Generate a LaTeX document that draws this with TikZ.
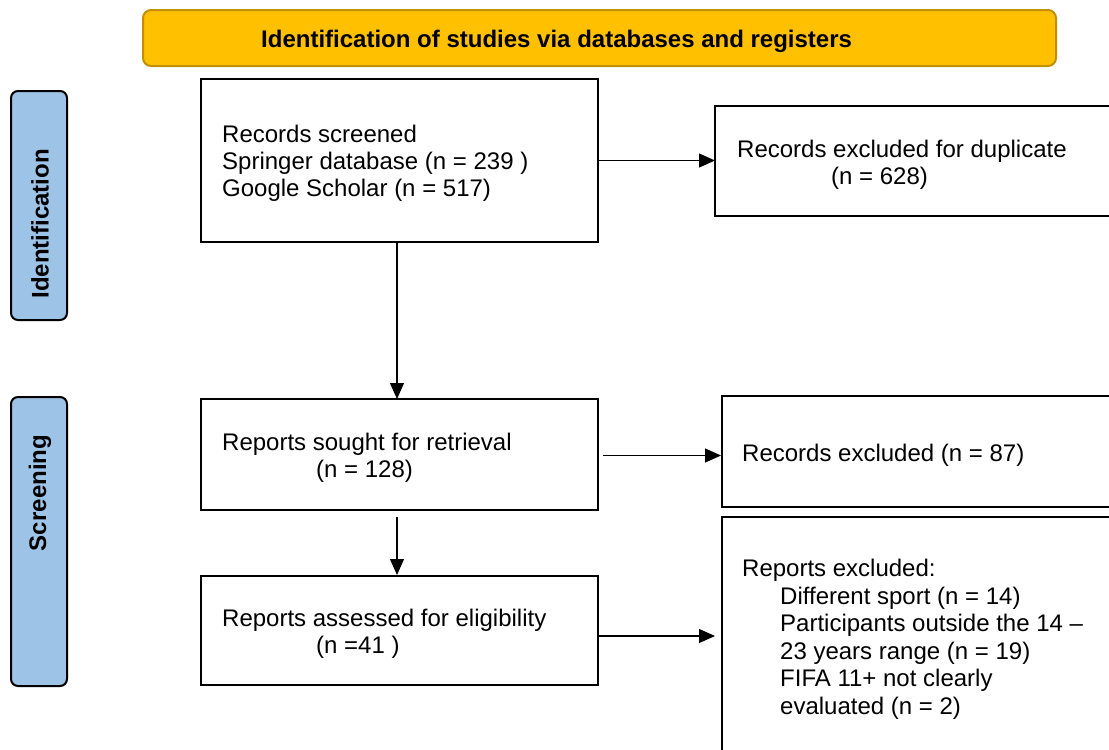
\documentclass[tikz,border=0pt]{standalone}
\usepackage{fontspec}
\setmainfont{Liberation Sans}
\usetikzlibrary{arrows.meta}
\definecolor{gold}{HTML}{FFC000}
\definecolor{golddark}{HTML}{BF9000}
\definecolor{lblue}{HTML}{9DC3E6}
\begin{document}
\begin{tikzpicture}[x=1pt,y=-1pt,
  box/.style={draw, line width=2pt, outer sep=0pt, inner sep=0pt, anchor=north west},
  phase/.style={box, fill=lblue, rounded corners=7pt},
  banner/.style={box, fill=gold, draw=golddark, rounded corners=8pt},
  txt/.style={inner sep=0pt, anchor=base west, font=\fontsize{24}{27}\selectfont},
  btxt/.style={inner sep=0pt, font=\fontsize{24}{27}\selectfont\bfseries},
  arr/.style={line width=1.2pt, -{Triangle[length=16pt,width=14pt]}}]
\useasboundingbox (0,0) rectangle (1109,750);
% banner
\node[banner, minimum width=913pt, minimum height=56pt] (ban) at (143,10) {};
\node[btxt, anchor=base west] (bant) at (261,47) {Identification of studies via databases and registers};
% phase labels
\node[phase, minimum width=56pt, minimum height=229pt] (idl) at (11,91) {};
\node[btxt, rotate=90, anchor=center] (idt) at (40,224) {Identification};
\node[phase, minimum width=56pt, minimum height=289pt] (scl) at (11,397) {};
\node[btxt, rotate=90, anchor=center] (sct) at (40,493) {Screening};
% boxes
\node[box, minimum width=397pt, minimum height=163pt] (b1) at (201,79) {};
\node[box, minimum width=410pt, minimum height=110pt] (dup) at (715,106) {};
\node[box, minimum width=397pt, minimum height=111pt] (b2) at (201,399) {};
\node[box, minimum width=400pt, minimum height=111pt] (r87) at (722,396) {};
\node[box, minimum width=397pt, minimum height=109pt] (b3) at (201,576) {};
\node[box, minimum width=400pt, minimum height=250pt] (rep) at (722,517) {};
% texts
\node[txt] (t1a) at (222,142) {Records screened};
\node[txt] (t1b) at (222,169) {Springer database (n = 239 )};
\node[txt] (t1c) at (222,196) {Google Scholar (n = 517)};
\node[txt] (tda) at (737,157) {Records excluded for duplicate};
\node[txt] (tdb) at (831,184) {(n = 628)};
\node[txt] (t2a) at (222,450) {Reports sought for retrieval};
\node[txt] (t2b) at (316,477) {(n = 128)};
\node[txt] (t87) at (742,461) {Records excluded (n = 87)};
\node[txt] (t3a) at (222,626) {Reports assessed for eligibility};
\node[txt] (t3b) at (316,653) {(n =41 )};
\node[txt] (tra) at (742,576) {Reports excluded:};
\node[txt] (trb) at (780,604) {Different sport (n = 14)};
\node[txt] (trc) at (780,631) {Participants outside the 14 --};
\node[txt] (trd) at (780,659) {23 years range (n = 19)};
\node[txt] (tre) at (780,686) {FIFA 11+ not clearly};
\node[txt] (trf) at (780,714) {evaluated (n = 2)};
% connectors
\draw[arr] (b1.east) -- (b1.east -| dup.west);
\draw[arr] (b1.south -| 397,0) -- (b2.north -| 397,0);
\draw[arr, shorten <=5pt, shorten >=1pt] ([yshift=-1pt]b2.east) -- ([yshift=-1pt]b2.east -| r87.west);
\draw[arr, shorten <=7pt, shorten >=1pt] (b2.south -| 397,0) -- (b3.north -| 397,0);
\draw[arr, shorten >=7pt] ([yshift=-5.5pt]b3.east) -- ([yshift=-5.5pt]b3.east -| rep.west);
\end{tikzpicture}
\end{document}
